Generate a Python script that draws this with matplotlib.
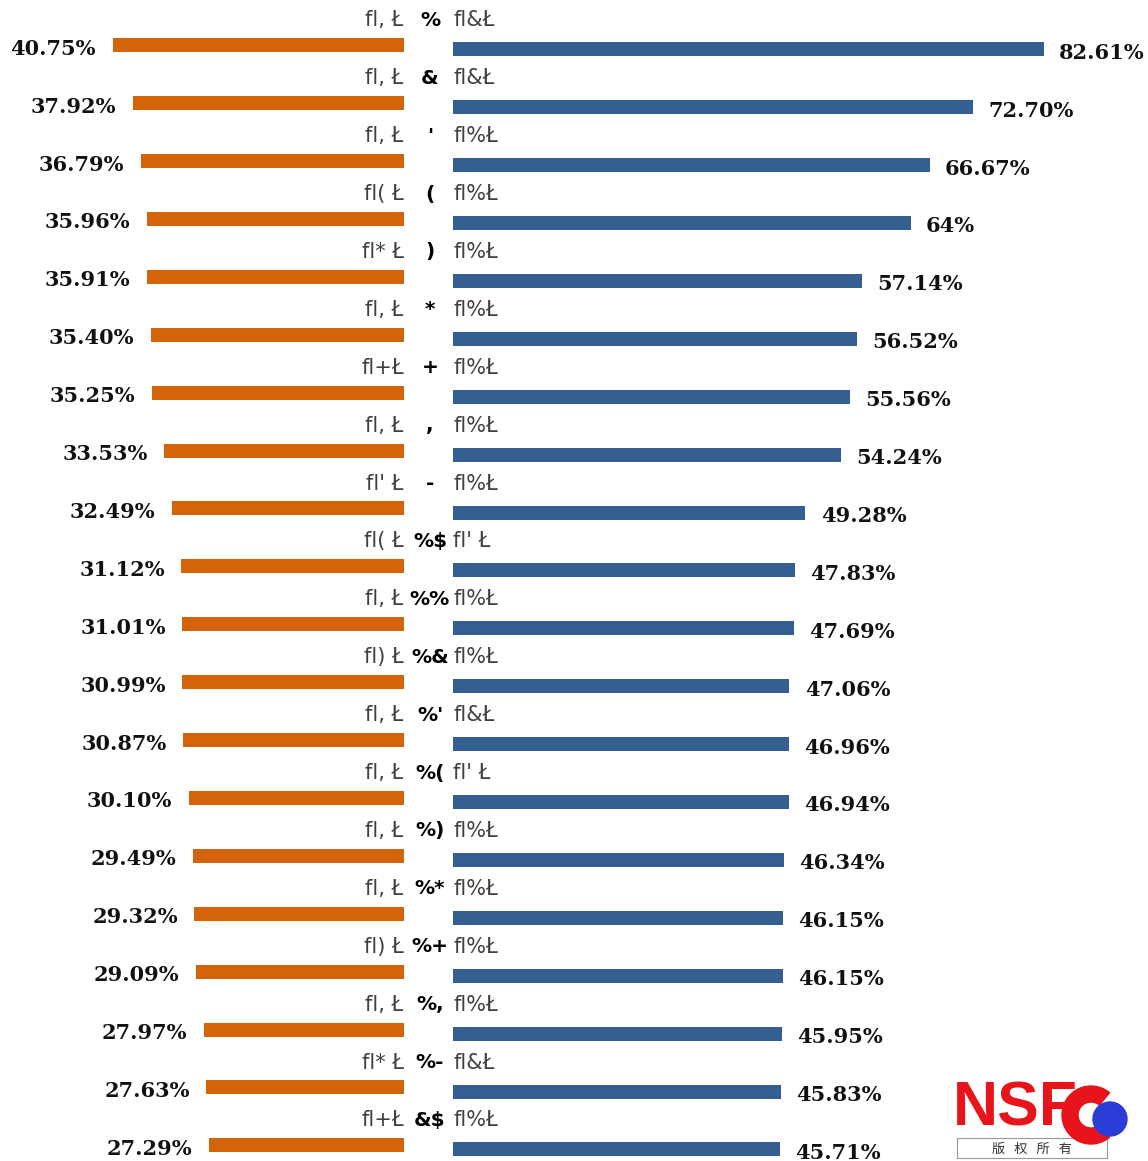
import matplotlib
matplotlib.use("Agg")
import matplotlib.pyplot as plt
from matplotlib.patches import Circle, Rectangle, Wedge
from matplotlib.transforms import blended_transform_factory

# data (labels kept exactly as they appear, garbled encoding included)
left_values = [40.75, 37.92, 36.79, 35.96, 35.91, 35.40, 35.25, 33.53, 32.49, 31.12,
               31.01, 30.99, 30.87, 30.10, 29.49, 29.32, 29.09, 27.97, 27.63, 27.29]
right_values = [82.61, 72.70, 66.67, 64.00, 57.14, 56.52, 55.56, 54.24, 49.28, 47.83,
                47.69, 47.06, 46.96, 46.94, 46.34, 46.15, 46.15, 45.95, 45.83, 45.71]
right_text = ["82.61%", "72.70%", "66.67%", "64%", "57.14%", "56.52%", "55.56%", "54.24%",
              "49.28%", "47.83%", "47.69%", "47.06%", "46.96%", "46.94%", "46.34%", "46.15%",
              "46.15%", "45.95%", "45.83%", "45.71%"]
left_labels = ["fl, Ł", "fl, Ł", "fl, Ł", "fl( Ł", "fl* Ł", "fl, Ł", "fl+Ł", "fl, Ł", "fl' Ł", "fl( Ł",
               "fl, Ł", "fl) Ł", "fl, Ł", "fl, Ł", "fl, Ł", "fl, Ł", "fl) Ł", "fl, Ł", "fl* Ł", "fl+Ł"]
ranks = ["%", "&", "'", "(", ")", "*", "+", ",", "-", "%$",
         "%%", "%&", "%'", "%(", "%)", "%*", "%+", "%,", "%-", "&$"]
right_labels = ["fl&Ł", "fl&Ł", "fl%Ł", "fl%Ł", "fl%Ł", "fl%Ł", "fl%Ł", "fl%Ł", "fl%Ł", "fl' Ł",
                "fl%Ł", "fl%Ł", "fl&Ł", "fl' Ł", "fl%Ł", "fl%Ł", "fl%Ł", "fl%Ł", "fl&Ł", "fl%Ł"]

ORANGE = "#D4640A"
BLUE = "#365F91"

W, H = 1148, 1161
fig = plt.figure(figsize=(W / 100, H / 100), dpi=100)

px_per_pct = 7.15
row_px = 57.9
top_px = 47
y_top = -top_px / row_px
y_bot = (H - top_px) / row_px

ax_l = fig.add_axes([0, 0, 404 / W, 1])
ax_r = fig.add_axes([453 / W, 0, (W - 453) / W, 1])
ax_l.set_xlim(404 / px_per_pct, 0)
ax_r.set_xlim(0, (W - 453) / px_per_pct)
for ax in (ax_l, ax_r):
    ax.set_ylim(y_bot, y_top)
    ax.axis("off")

rows = list(range(len(left_values)))
bar_h = 14 / row_px
ax_l.barh([r - 0.03 for r in rows], left_values, height=bar_h, color=ORANGE)
ax_r.barh([r + 0.04 for r in rows], right_values, height=bar_h, color=BLUE)

val_font = dict(family="DejaVu Serif", fontweight="bold", fontsize=15, color="#111111")
lab_font = dict(family="DejaVu Sans", fontsize=15)

mid = blended_transform_factory(fig.transFigure, ax_l.transData)
for r in rows:
    ax_l.annotate(f"{left_values[r]:.2f}%", (left_values[r], r + 0.03), xytext=(-12, 0),
                  textcoords="offset points", ha="right", va="center", **val_font)
    ax_r.annotate(right_text[r], (right_values[r], r + 0.1), xytext=(11, 0),
                  textcoords="offset points", ha="left", va="center", **val_font)
    ly = r - 0.46
    ax_l.text(0.05, ly, left_labels[r], ha="right", va="center", color="#404040", **lab_font)
    ax_r.text(0.0, ly, right_labels[r], ha="left", va="center", color="#404040", **lab_font)
    ax_l.text(430 / W, ly, ranks[r], ha="center", va="center", color="black",
              transform=mid, fontweight="semibold", family="DejaVu Sans", fontsize=14.5)

# NSFC logo, bottom right
lg = fig.add_axes([955 / W, 0, 175 / W, 82 / H])
lg.set_xlim(0, 175)
lg.set_ylim(0, 82)
lg.axis("off")
lg.add_patch(Rectangle((2, 3), 150, 20, fill=False, ec="#999999", lw=0.8))
lg.add_patch(Wedge((136, 46), 29, 50, 310, width=16, color="#E8141B"))
lg.text(-2, 52, "NSF", color="#E8141B", fontsize=45, fontweight="bold", family="Liberation Sans",
        ha="left", va="center")
lg.add_patch(Circle((155, 42), 17, color="#2A3CD6"))
lg.text(77, 12, "版   权   所   有", fontsize=9.5, family=["Noto Sans CJK SC", "DejaVu Sans"],
        color="#333333", ha="center", va="center")

fig.savefig("out.png", dpi=100, facecolor="white")
